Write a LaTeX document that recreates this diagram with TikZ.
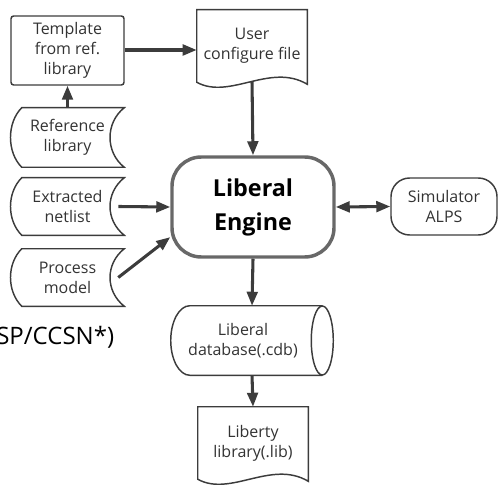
\documentclass[tikz,border=0pt]{standalone}
\usepackage{fontspec}
\setmainfont{Open Sans}
\usetikzlibrary{arrows.meta,calc,positioning}
\definecolor{linegray}{HTML}{3C3C3C}
\definecolor{enginegray}{HTML}{686868}
\definecolor{textgray}{HTML}{333333}

\begin{document}
\begin{tikzpicture}[x=0.75pt,y=-0.75pt,
    lbl/.style={align=center,text=textgray,font=\fontsize{12}{15}\selectfont,inner sep=0pt},
    shp/.style={draw=linegray,line width=1.1pt},
    arr/.style={draw=linegray,line width=2.3pt,-{Triangle[length=10.5pt,width=8pt]}},
    biarr/.style={arr,{Triangle[length=10.5pt,width=8pt]}-{Triangle[length=10.5pt,width=8pt]}}]
    \useasboundingbox (0,0) rectangle (498,484);
    % boxes
    \node[lbl,shp,rounded corners=2pt,minimum width=84.75pt,minimum height=51.75pt] (tmpl) at (67.5,50.5) {Template\\from ref.\\library};
    \node[lbl,minimum width=82.5pt,minimum height=54pt] (ucfg) at (252,46) {User\\configure file};
    \node[lbl,minimum width=84.75pt,minimum height=44.25pt] (reflib) at (67.5,137.5) {Reference\\library};
    \node[lbl,minimum width=84.75pt,minimum height=42.75pt] (extnet) at (67.5,206.5) {Extracted\\netlist};
    \node[lbl,minimum width=84.75pt,minimum height=42.75pt] (procm) at (67.5,277.5) {Process\\model};
    \node[align=center,inner sep=0pt,font=\fontsize{17.5}{25.5}\selectfont\bfseries,
        draw=enginegray,line width=2.6pt,rounded corners=22pt,
        minimum width=121.5pt,minimum height=75pt] (engine) at (253,207) {Liberal\\Engine};
    \node[lbl,shp,rounded corners=14pt,minimum width=79.5pt,minimum height=42.75pt] (sim) at (444,206.5) {Simulator\\ALPS};
    \node[lbl,minimum width=121.5pt,minimum height=51.75pt] (db) at (252,340.5) {};
    \node[lbl] (dbtxt) at (243,340.5) {Liberal\\database(.cdb)};
    \node[lbl,minimum width=82.5pt,minimum height=54pt] (lib) at (253,443) {Liberty\\library(.lib)};
    \node[anchor=base west,inner sep=0pt,text=black,font=\fontsize{18}{20}\selectfont] (note) at (-4,344) {SP/CCSN*)};
    % document shapes
    \foreach \n in {ucfg,lib}
        \draw[shp] (\n.south east) -- (\n.north east) -- (\n.north west) -- (\n.south west)
            .. controls +(33,18) and +(-37,-22) .. ($(\n.south east)+(0,2)$) -- cycle;
    % stored data shapes
    \foreach \n in {reflib,extnet,procm}
        \draw[shp] ($(\n.north west)+(11,0)$) -- (\n.north east)
            .. controls +(-19,15) and +(-19,-15) .. (\n.south east)
            -- ($(\n.south west)+(11,0)$)
            .. controls +(-15,-15) and +(-15,15) .. cycle;
    % database
    \draw[shp] ($(db.north east)+(-11,0)$) -- ($(db.north west)+(19,0)$)
        .. controls +(-10.5,0) and +(0,-19) .. (db.west)
        .. controls +(0,19) and +(-10.5,0) .. ($(db.south west)+(19,0)$)
        -- ($(db.south east)+(-11,0)$);
    \draw[shp] ($(db.east)+(-11,0)$) ellipse [x radius=11,y radius=34.5];
    % connectors
    \draw[arr] (tmpl.east |- 0,50) -- (ucfg.west |- 0,50);
    \draw[arr] (reflib.north) -- (tmpl.south);
    \draw[arr] ($(ucfg.south)+(0,-1)$) -- (engine.north);
    \draw[arr] ($(extnet.east)+(-6,0)$) -- (engine.west);
    \draw[arr] ($(procm.east)+(-6,0)$) -- (engine.200);
    \draw[biarr] (engine.east) -- (sim.west);
    \draw[arr] (engine.south) -- (db.north);
    \draw[arr] (db.south) -- (lib.north);
\end{tikzpicture}
\end{document}
